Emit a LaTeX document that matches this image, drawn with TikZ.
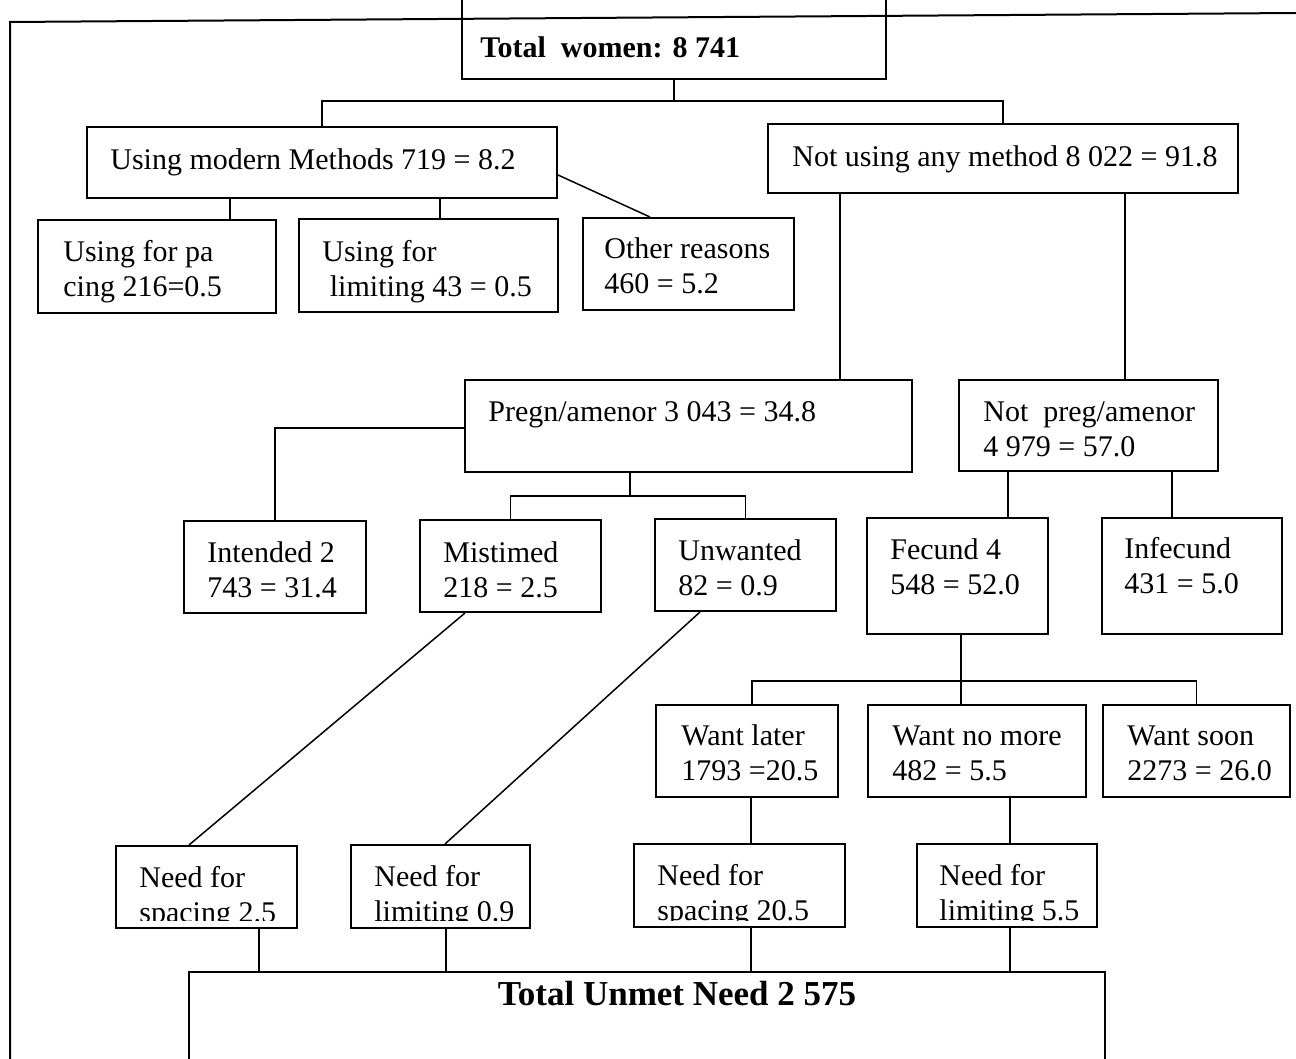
\documentclass[tikz,border=0pt]{standalone}
\usepackage{fontspec}
\setmainfont{Liberation Serif}
\usetikzlibrary{fit}
\begin{document}
\begin{tikzpicture}[x=0.5pt,y=-0.5pt,
  box/.style={draw, line width=1pt, inner sep=0pt},
  txt/.style={anchor=base west, align=left, inner sep=0pt, font=\fontsize{15}{17.5}\selectfont},
  btxt/.style={anchor=base, inner sep=0pt, font=\bfseries\fontsize{17.5}{20}\selectfont},
  link/.style={line width=0.75pt},
  frame/.style={line width=1pt}]
\clip (0,0) rectangle (1296,1059);
\fill[white] (0,0) rectangle (1296,1059);
% outer frame
\draw[frame] (10,1075) -- (10,22) -- (1296,13);
% boxes
\node[box, fit={(462,-10) (886,79)}] (tw) {};
\node[box, fit={(87,127) (557,198)}] (um) {};
\node[box, fit={(768,124) (1238,193)}] (nu) {};
\node[box, fit={(38,220) (276,313)}] (up) {};
\node[box, fit={(299,219) (558,312)}] (ul) {};
\node[box, fit={(583,218) (794,310)}] (ot) {};
\node[box, fit={(465,380) (912,472)}] (pg) {};
\node[box, fit={(959,380) (1218,471)}] (np) {};
\node[box, fit={(184,521) (366,613)}] (itd) {};
\node[box, fit={(420,520) (601,612)}] (mi) {};
\node[box, fit={(655,519) (836,611)}] (uw) {};
\node[box, fit={(867,518) (1048,634)}] (fe) {};
\node[box, fit={(1102,518) (1282,634)}] (inf) {};
\node[box, fit={(656,705) (838,797)}] (wl) {};
\node[box, fit={(868,705) (1086,797)}] (wn) {};
\node[box, fit={(1103,705) (1290,797)}] (ws) {};
\node[box, fit={(116,846) (297,928)}] (n1) {};
\node[box, fit={(351,845) (530,928)}] (n2) {};
\node[box, fit={(634,844) (845,927)}] (n3) {};
\node[box, fit={(917,844) (1097,927)}] (n4) {};
\node[box, fit={(189,972) (1105,1075)}] (tu) {};
% texts (base = baseline of the last line)
\node[txt, font=\bfseries\fontsize{15}{17.5}\selectfont] (twt) at (480,58) {Total\ \ women: 8 741};
\node[txt] (umt) at (110,170) {Using modern Methods 719 = 8.2};
\node[txt] (nut) at (792,167) {Not using any method 8 022 = 91.8};
\node[txt] (upt) at (63,297) {Using for pa\\cing 216=0.5};
\node[txt] (ult) at (322,297) {Using for\\\ limiting 43 = 0.5};
\node[txt] (ott) at (604,294) {Other reasons\\460 = 5.2};
\node[txt] (pgt) at (488,422) {Pregn/amenor 3 043 = 34.8};
\node[txt] (npt) at (983,456) {Not\ \ preg/amenor\\4 979 = 57.0};
\node[txt] (itdt) at (207,597) {Intended 2\\743 = 31.4};
\node[txt] (mit) at (443,597) {Mistimed\\218 = 2.5};
\node[txt] (uwt) at (678,595) {Unwanted\\82 = 0.9};
\node[txt] (fet) at (890,594) {Fecund 4\\548 = 52.0};
\node[txt] (inft) at (1124,593) {Infecund\\431 = 5.0};
\node[txt] (wlt) at (681,780) {Want later\\1793 =20.5};
\node[txt] (wnt) at (892,780) {Want no more\\482 = 5.5};
\node[txt] (wst) at (1127,780) {Want soon\\2273 = 26.0};
\begin{scope}
\clip (100,840) rectangle (1110,920);
\node[txt] (n1t) at (139,922) {Need for\\spacing 2.5};
\node[txt] (n2t) at (374,921) {Need for\\limiting 0.9};
\node[txt] (n3t) at (657,920) {Need for\\spacing 20.5};
\node[txt] (n4t) at (939,920) {Need for\\limiting 5.5};
\end{scope}
\node[btxt] (tut) at (677,1005) {Total Unmet Need 2 575};
% connectors
\coordinate (j1) at (tw.south |- 0,101);
\draw[link] (tw.south) -- (j1);
\draw[link] (um.north) |- (j1) -| (nu.north);
\draw[link] (um.south -| 230,0) -- (up.north -| 230,0);
\draw[link] (um.south -| 440,0) -- (ul.north -| 440,0);
\draw[link] (um.east |- 0,175) -- (ot.north -| 650,0);
\draw[link] (nu.south -| 840,0) -- (pg.north -| 840,0);
\draw[link] (nu.south -| 1125,0) -- (np.north -| 1125,0);
\draw[link] (pg.west |- 0,428) -| (itd.north);
\coordinate (j2) at (630,496);
\draw[link] (pg.south -| j2) -- (j2);
\draw[link] (mi.north) |- (j2) -| (uw.north);
\draw[link] (np.south -| 1008,0) -- (fe.north -| 1008,0);
\draw[link] (np.south -| 1172,0) -- (inf.north -| 1172,0);
\coordinate (j3) at (961,681);
\draw[link] (fe.south -| j3) -- (j3);
\draw[link] (wl.north -| 752,0) |- (j3) -| (ws.north);
\draw[link] (j3) -- (wn.north -| j3);
\draw[link] (mi.south -| 465,0) -- (n1.north -| 189,0);
\draw[link] (uw.south -| 700,0) -- (n2.north -| 445,0);
\draw[link] (wl.south -| 751,0) -- (n3.north -| 751,0);
\draw[link] (wn.south -| 1010,0) -- (n4.north -| 1010,0);
\draw[link] (n1.south -| 259,0) -- (tu.north -| 259,0);
\draw[link] (n2.south -| 446,0) -- (tu.north -| 446,0);
\draw[link] (n3.south -| 751,0) -- (tu.north -| 751,0);
\draw[link] (n4.south -| 1010,0) -- (tu.north -| 1010,0);
\end{tikzpicture}
\end{document}
